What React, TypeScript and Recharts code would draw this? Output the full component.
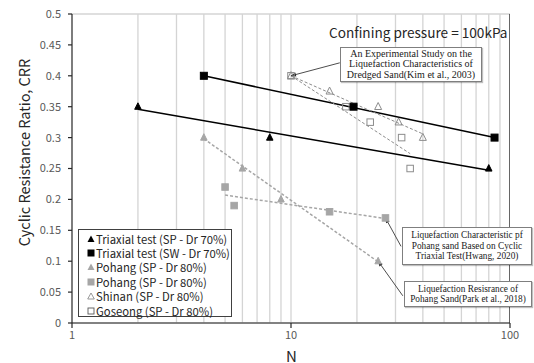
import React from "react";
import { ComposedChart, Line, Scatter, XAxis, YAxis, CartesianGrid, ReferenceLine } from "recharts";

// axis ticks and log grid
const xTicks = [1, 10, 100];
const yTicks = [0, 0.05, 0.1, 0.15, 0.2, 0.25, 0.3, 0.35, 0.4, 0.45, 0.5];
const gridN = [2, 3, 4, 5, 6, 7, 8, 9, 10, 20, 30, 40, 50, 60, 70, 80, 90];
const crrRange = [0, 0.5];

// Triaxial test (SP - Dr 70%)
const triSpN = [2, 8, 80];
const triSpCrr = [0.35, 0.3, 0.25];
const triSpFitN = [2, 80];
const triSpFitCrr = [0.346, 0.247];

// Triaxial test (SW - Dr 70%)
const triSwN = [4, 19.3, 85];
const triSwCrr = [0.4, 0.35, 0.3];
const triSwFitN = [4, 85];
const triSwFitCrr = [0.4, 0.3];

// Pohang, Park et al. (2018)
const parkN = [4, 6, 9, 25];
const parkCrr = [0.3, 0.25, 0.2, 0.1];
const parkFitN = [4, 25];
const parkFitCrr = [0.298, 0.099];

// Pohang, Hwang (2020)
const hwangN = [5, 5.5, 15, 27];
const hwangCrr = [0.22, 0.19, 0.18, 0.17];
const hwangFitN = [5, 27];
const hwangFitCrr = [0.207, 0.169];

// Shinan, Kim et al. (2003)
const shinanN = [10, 15, 25, 31, 40];
const shinanCrr = [0.4, 0.375, 0.35, 0.325, 0.3];
const shinanFitN = [10, 40];
const shinanFitCrr = [0.4, 0.306];

// Goseong, Kim et al. (2003)
const goseongN = [10, 17.8, 23, 32, 35];
const goseongCrr = [0.4, 0.35, 0.325, 0.3, 0.25];
const goseongFitN = [10, 35];
const goseongFitCrr = [0.4, 0.274];

const legendNames = [
  "Triaxial test (SP - Dr 70%)",
  "Triaxial test (SW - Dr 70%)",
  "Pohang (SP - Dr 80%)",
  "Pohang (SP - Dr 80%)",
  "Shinan (SP - Dr 80%)",
  "Goseong (SP - Dr 80%)",
];

// reference notes: text lines, then [tail, head] in (N, CRR)
const kimNote = ["An Experimental Study on the", "Liquefaction Characteristics of", "Dredged Sand(Kim et al., 2003)"];
const kimArrowN = [16.7, 10];
const kimArrowCrr = [0.421, 0.4];
const hwangNote = ["Liquefaction Characteristic pf", "Pohang sand Based on Cyclic", "Triaxial Test(Hwang, 2020)"];
const hwangArrowN = [31.8, 27];
const hwangArrowCrr = [0.124, 0.17];
const parkNote = ["Liquefaction Resisrance of", "Pohang Sand(Park et al., 2018)"];
const parkArrowN = [32.4, 25];
const parkArrowCrr = [0.044, 0.1];

const toPoints = (n: number[], crr: number[]) => n.map((v, i) => ({ n: v, crr: crr[i] }));
const toSegment = (n: number[], crr: number[]) => n.map((v, i) => ({ x: v, y: crr[i] }));
const upright = (n: number) => crrRange.map((c) => ({ n, crr: c }));

const SANS = "'Noto Sans CJK KR', 'Noto Sans', sans-serif";
const SERIF = "'Liberation Serif', 'DejaVu Serif', serif";
const GRAY = "#a6a6a6";
const OPEN = "#8c8c8c";
const GRID = "#d4d4d4";

const MARGIN = { top: 14, right: 24, bottom: 0, left: 0 };
const layer: React.CSSProperties = { position: "absolute", left: 0, top: 0 };

const triangle = (fill: string, stroke: string, s: number) => (p: any) => (
  <path
    d={`M${p.cx},${p.cy - s * 0.6} L${p.cx + s / 2},${p.cy + s * 0.4} L${p.cx - s / 2},${p.cy + s * 0.4} Z`}
    fill={fill}
    stroke={stroke}
    strokeWidth={1}
  />
);

const square = (fill: string, stroke: string, s: number) => (p: any) => (
  <rect x={p.cx - s / 2} y={p.cy - s / 2} width={s} height={s} fill={fill} stroke={stroke} strokeWidth={1} />
);

// leader line with a small arrow head at the data point
const arrow = (p: any) => {
  const { x1, y1, x2, y2 } = p;
  const a = Math.atan2(y2 - y1, x2 - x1);
  const len = 5;
  const w = 2;
  const bx = x2 - len * Math.cos(a);
  const by = y2 - len * Math.sin(a);
  const nx = -Math.sin(a) * w;
  const ny = Math.cos(a) * w;
  return (
    <g>
      <line x1={x1} y1={y1} x2={x2} y2={y2} stroke="#4d4d4d" strokeWidth={1} />
      <path d={`M${x2},${y2} L${bx + nx},${by + ny} L${bx - nx},${by - ny} Z`} fill="#262626" />
    </g>
  );
};

const legendMarks = [
  <path d="M4,0.5 L7.5,7 L0.5,7 Z" fill="#000" />,
  <rect x={0.5} y={0.5} width={7} height={7} fill="#000" />,
  <path d="M4,0.5 L7.5,7 L0.5,7 Z" fill={GRAY} />,
  <rect x={0.5} y={0.5} width={7} height={7} fill={GRAY} />,
  <path d="M4,1 L7.3,7 L0.7,7 Z" fill="none" stroke={OPEN} strokeWidth={0.9} />,
  <rect x={1} y={1} width={6} height={6} fill="none" stroke="#595959" strokeWidth={0.9} />,
];

const LegendBox = () => (
  <div
    style={{
      position: "absolute",
      left: 78,
      top: 229,
      boxSizing: "border-box",
      width: 154,
      height: 88,
      border: "1.5px solid #404040",
      background: "#fff",
      paddingTop: 1.5,
      fontFamily: SANS,
      fontSize: 11.3,
      lineHeight: "14px",
      color: "#262626",
    }}
  >
    {legendNames.map((name, i) => (
      <div key={i} style={{ display: "flex", alignItems: "center", height: 14.4, whiteSpace: "nowrap" }}>
        <svg width={8} height={8} style={{ marginLeft: 8, marginRight: 1, flexShrink: 0 }}>
          {legendMarks[i]}
        </svg>
        <span>{name}</span>
      </div>
    ))}
  </div>
);

const Note = ({ lines, left, top, width, height, size }: any) => (
  <div
    style={{
      position: "absolute",
      left,
      top,
      width,
      height,
      boxSizing: "border-box",
      border: "1px solid #7f7f7f",
      boxShadow: "1px 1px 1px rgba(0,0,0,0.25)",
      background: "#fff",
      fontFamily: SERIF,
      fontSize: size,
      lineHeight: "10.4px",
      color: "#1a1a1a",
      textAlign: "center",
      display: "flex",
      flexDirection: "column",
      justifyContent: "center",
      whiteSpace: "nowrap",
    }}
  >
    {lines.map((l: string, i: number) => (
      <div key={i}>{l}</div>
    ))}
  </div>
);

// background layer: grid and frame only, same plot box as the data layer
const GridLayer = () => (
  <ComposedChart width={534} height={363} margin={MARGIN}>
    <CartesianGrid stroke={GRID} strokeWidth={1.3} vertical={false} />
    <XAxis dataKey="n" type="number" scale="log" domain={[1, 100]} ticks={xTicks} allowDataOverflow height={40} tick={false} tickLine={false} axisLine={false} />
    <YAxis dataKey="crr" type="number" domain={[0, 0.5]} ticks={yTicks} allowDataOverflow width={72} tick={false} tickLine={false} axisLine={false} />
    {gridN.map((n) => (
      <Line key={`g${n}`} data={upright(n)} dataKey="crr" stroke={GRID} strokeWidth={1.3} dot={false} isAnimationActive={false} />
    ))}
    <Line data={upright(100)} dataKey="crr" stroke="#333" strokeWidth={1.5} dot={false} isAnimationActive={false} />
  </ComposedChart>
);

const DataLayer = () => (
  <ComposedChart width={534} height={363} margin={MARGIN}>
    <XAxis
      dataKey="n"
      type="number"
      scale="log"
      domain={[1, 100]}
      ticks={xTicks}
      allowDataOverflow
      height={40}
      stroke="#262626"
      strokeWidth={1.2}
      tickSize={5}
      tickMargin={3}
      tick={{ fontFamily: SANS, fontSize: 11, fill: "#595959" }}
      label={{
        content: () => (
          <text x={291.5} y={355} textAnchor="middle" dominantBaseline="central" fontFamily={SANS} fontSize={15} fill="#262626">
            N
          </text>
        ),
      }}
    />
    <YAxis
      dataKey="crr"
      type="number"
      domain={[0, 0.5]}
      ticks={yTicks}
      allowDataOverflow
      width={72}
      stroke="#262626"
      strokeWidth={1.2}
      tickSize={4}
      tickMargin={7}
      tick={{ fontFamily: SANS, fontSize: 11, fill: "#595959" }}
      label={{
        content: () => (
          <text
            x={23.5}
            y={152.5}
            transform="rotate(-90 23.5 152.5)"
            textAnchor="middle"
            dominantBaseline="central"
            fontFamily={SANS}
            fontSize={14.5}
            fill="#262626"
          >
            Cyclic Resistance Ratio, CRR
          </text>
        ),
      }}
    />

    <Line data={toPoints(triSpFitN, triSpFitCrr)} dataKey="crr" stroke="#000" strokeWidth={1.5} dot={false} isAnimationActive={false} />
    <Line data={toPoints(triSwFitN, triSwFitCrr)} dataKey="crr" stroke="#000" strokeWidth={1.5} dot={false} isAnimationActive={false} />
    <Line data={toPoints(parkFitN, parkFitCrr)} dataKey="crr" stroke={GRAY} strokeWidth={1.5} strokeDasharray="3 2" dot={false} isAnimationActive={false} />
    <Line data={toPoints(hwangFitN, hwangFitCrr)} dataKey="crr" stroke={GRAY} strokeWidth={1.5} strokeDasharray="3 2" dot={false} isAnimationActive={false} />
    <Line data={toPoints(shinanFitN, shinanFitCrr)} dataKey="crr" stroke={OPEN} strokeWidth={1} strokeDasharray="3 2" dot={false} isAnimationActive={false} />
    <Line data={toPoints(goseongFitN, goseongFitCrr)} dataKey="crr" stroke={OPEN} strokeWidth={1} strokeDasharray="3 2" dot={false} isAnimationActive={false} />

    <Scatter data={toPoints(goseongN, goseongCrr)} shape={square("none", OPEN, 6.5)} isAnimationActive={false} />
    <Scatter data={toPoints(shinanN, shinanCrr)} shape={triangle("none", OPEN, 7)} isAnimationActive={false} />
    <Scatter data={toPoints(parkN, parkCrr)} shape={triangle(GRAY, GRAY, 6.5)} isAnimationActive={false} />
    <Scatter data={toPoints(hwangN, hwangCrr)} shape={square(GRAY, GRAY, 6.5)} isAnimationActive={false} />
    <Scatter data={toPoints(triSpN, triSpCrr)} shape={triangle("#000", "#000", 6.5)} isAnimationActive={false} />
    <Scatter data={toPoints(triSwN, triSwCrr)} shape={square("#000", "#000", 7)} isAnimationActive={false} />

    <ReferenceLine segment={toSegment(kimArrowN, kimArrowCrr)} shape={arrow} ifOverflow="visible" />
    <ReferenceLine segment={toSegment(hwangArrowN, hwangArrowCrr)} shape={arrow} ifOverflow="visible" />
    <ReferenceLine segment={toSegment(parkArrowN, parkArrowCrr)} shape={arrow} ifOverflow="visible" />
  </ComposedChart>
);

export default function App() {
  return (
    <div style={{ position: "absolute", left: 0, top: 0, width: 534, height: 363, background: "#fff", overflow: "hidden" }}>
      <div style={layer}>
        <GridLayer />
      </div>
      <div style={layer}>
        <DataLayer />
      </div>

      <LegendBox />
      <div
        style={{
          position: "absolute",
          left: 329,
          top: 22,
          fontFamily: SANS,
          fontSize: 13.6,
          lineHeight: "20px",
          color: "#262626",
          whiteSpace: "nowrap",
        }}
      >
        Confining pressure = 100kPa
      </div>
      <Note lines={kimNote} left={340} top={47} width={142} height={35} size={10} />
      <Note lines={hwangNote} left={402} top={227} width={130} height={38} size={9.3} />
      <Note lines={parkNote} left={404} top={281} width={128} height={26} size={9.3} />
    </div>
  );
}
